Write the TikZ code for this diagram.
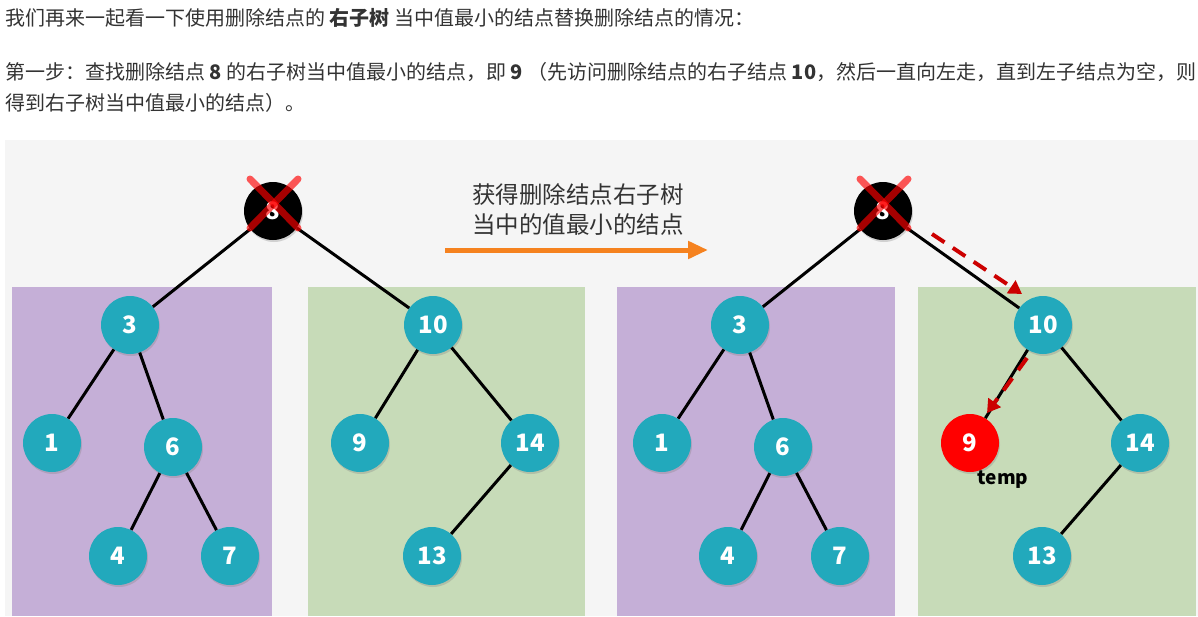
\documentclass[tikz,border=0pt]{standalone}
\usepackage{fontspec}
\setmainfont{Noto Sans CJK SC}
\usetikzlibrary{arrows.meta,shadows}
\definecolor{tealnode}{HTML}{22A9BC}
\definecolor{leftbg}{HTML}{C5AFD7}
\definecolor{rightbg}{HTML}{C7DBB8}
\definecolor{panelbg}{HTML}{F5F5F5}
\definecolor{bodytext}{HTML}{333333}
\definecolor{arroworange}{HTML}{F5821F}
\definecolor{pathred}{HTML}{CC0000}
\tikzset{
  treenode/.style={circle, fill=tealnode, text=white, minimum size=58pt, inner sep=0pt,
    font=\fontsize{24}{24}\selectfont\bfseries,
    drop shadow={shadow xshift=1pt, shadow yshift=-2pt, opacity=0.3}},
  rootnode/.style={treenode, fill=black},
  tempnode/.style={treenode, fill=red},
  branch/.style={line width=3pt},
  crossmark/.style={line width=7pt, red, opacity=0.65, line cap=round},
  searchpath/.style={pathred, line width=4pt, dash pattern=on 15pt off 10pt,
    -{Triangle[length=13pt,width=15pt]}},
  bodyline/.style={anchor=base west, inner sep=0pt, text=bodytext,
    font=\fontsize{20}{20}\selectfont},
}
\begin{document}
\begin{tikzpicture}[x=1pt, y=-1pt]
\useasboundingbox (0,0) rectangle (1198,616);
\fill[white] (0,0) rectangle (1198,616);
\begin{scope}
\clip (0,0) rectangle (1198,616);
\node[bodyline] (line1) at (5,25) {我们再来一起看一下使用删除结点的 {\bfseries 右子树} 当中值最小的结点替换删除结点的情况：};
\node[bodyline] (line2) at (5,79) {第一步：查找删除结点 {\bfseries 8} 的右子树当中值最小的结点，即 {\bfseries 9} （先访问删除结点的右子结点 {\bfseries 10}，然后一直向左走，直到左子结点为空，则};
\node[bodyline] (line3) at (5,110) {得到右子树当中值最小的结点）。};
\end{scope}
\fill[panelbg] (5,140) rectangle (1198,616);
\fill[leftbg] (12,287) rectangle (272,616);
\fill[rightbg] (308,287) rectangle (585,616);
\fill[leftbg] (617,287) rectangle (895,616);
\fill[rightbg] (918,287) rectangle (1196,616);
\node[text=bodytext, font=\fontsize{23.5}{30}\selectfont, align=center] (caption) at (578,209)
  {获得删除结点右子树\\当中的值最小的结点};
\coordinate (goL) at (445,250);
\coordinate (goR) at (708,250);
\draw[arroworange, line width=5pt, -{Triangle[length=20pt,width=17pt]}] (goL) -- (goR);
\foreach \p/\dx/\ninestyle in {L/0/treenode, R/610/tempnode} {
  \begin{scope}[xshift=\dx]
  \node[rootnode] (\p8) at (273,211) {8};
  \node[treenode] (\p3) at (130,325) {3};
  \node[treenode] (\p10) at (433,325) {10};
  \node[treenode] (\p1) at (52,443) {1};
  \node[treenode] (\p6) at (173,447) {6};
  \node[\ninestyle] (\p9) at (360,443) {9};
  \node[treenode] (\p14) at (530,443) {14};
  \node[treenode] (\p4) at (118,556) {4};
  \node[treenode] (\p7) at (230,556) {7};
  \node[treenode] (\p13) at (432,556) {13};
  \draw[branch] (\p8) -- (\p3);
  \draw[branch] (\p8) -- (\p10);
  \draw[branch] (\p3) -- (\p1);
  \draw[branch] (\p3) -- (\p6);
  \draw[branch] (\p6) -- (\p4);
  \draw[branch] (\p6) -- (\p7);
  \draw[branch] (\p10) -- (\p9);
  \draw[branch] (\p10) -- (\p14);
  \draw[branch] (\p14) -- (\p13);
  \draw[crossmark] (250,179) -- (298,228);
  \draw[crossmark] (298,179) -- (250,228);
  \end{scope}
}
\node[font=\fontsize{19}{19}\selectfont\bfseries, text=black] (templabel) at (1003,480) {temp};
\coordinate (downA) at (932,234);
\coordinate (downB) at (1022,294);
\coordinate (leftA) at (1027,358);
\coordinate (leftB) at (987,413);
\draw[searchpath] (downA) -- (downB);
\draw[searchpath] (leftA) -- (leftB);
\end{tikzpicture}
\end{document}
